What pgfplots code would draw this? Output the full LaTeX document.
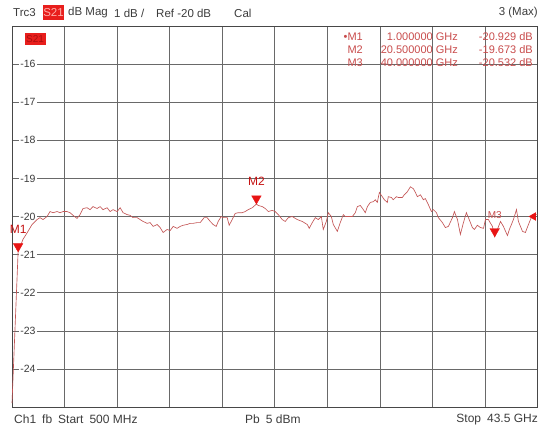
\documentclass[border=0pt]{standalone}
\usepackage{fontspec}
\setmainfont{Liberation Sans}
\usepackage{pgfplots}
\usepackage{pgfplotstable}
\pgfplotsset{compat=1.18}
\definecolor{trace}{RGB}{195,85,85}
\definecolor{mk}{RGB}{232,20,20}
\definecolor{mtxt}{RGB}{200,75,75}
\definecolor{gridc}{RGB}{105,105,105}
\definecolor{txt}{RGB}{60,60,60}
\definecolor{hdr}{RGB}{232,30,28}

\pgfplotstableread{
f dB
0.5 -24.9
1.0 -20.929
1.40 -20.60
1.81 -20.39
2.14 -20.21
2.55 -20.08
2.79 -20.03
3.04 -20.08
3.37 -20.00
3.61 -19.87
3.86 -19.90
4.19 -19.87
4.43 -19.90
4.68 -19.87
5.00 -19.87
5.25 -19.90
5.50 -19.97
5.82 -20.05
6.07 -19.95
6.31 -19.79
6.64 -19.77
6.89 -19.82
7.13 -19.74
7.46 -19.79
7.71 -19.74
7.95 -19.82
8.28 -19.77
8.53 -19.87
8.77 -19.82
9.10 -19.87
9.35 -19.77
9.59 -19.90
9.92 -19.95
10.16 -19.97
10.41 -20.03
10.74 -20.03
10.98 -20.08
11.23 -20.13
11.56 -20.18
11.80 -20.16
12.05 -20.26
12.38 -20.21
12.62 -20.29
12.87 -20.42
13.19 -20.34
13.44 -20.37
13.69 -20.26
14.01 -20.31
14.26 -20.26
14.50 -20.23
14.83 -20.21
15.08 -20.18
15.32 -20.18
15.65 -20.16
15.90 -20.16
16.22 -20.03
16.47 -20.03
16.72 -20.13
16.96 -20.21
17.21 -20.26
17.37 -20.13
17.62 -20.00
17.78 -20.03
18.11 -20.03
18.27 -20.23
18.52 -20.08
18.76 -19.92
19.01 -19.90
19.34 -19.90
19.58 -19.87
19.83 -19.82
20.16 -19.77
20.50 -19.673
20.65 -19.71
20.98 -19.74
21.22 -19.79
21.47 -19.87
21.79 -19.84
22.04 -19.87
22.29 -19.95
22.61 -20.08
22.86 -20.13
23.11 -20.03
23.43 -20.00
23.84 -20.08
24.25 -20.13
24.66 -20.21
24.82 -20.31
25.07 -20.16
25.32 -20.03
25.56 -20.08
25.81 -20.00
25.97 -20.34
26.22 -20.13
26.38 -19.90
26.63 -20.00
26.79 -20.21
27.12 -20.39
27.36 -20.16
27.61 -19.95
27.77 -20.00
28.02 -20.00
28.35 -20.00
28.59 -19.90
28.76 -19.74
29.00 -19.71
29.25 -19.82
29.41 -19.90
29.58 -19.74
29.82 -19.63
30.07 -19.61
30.23 -19.56
30.39 -19.63
30.56 -19.37
30.80 -19.48
30.97 -19.56
31.21 -19.63
31.29 -19.48
31.54 -19.50
31.70 -19.56
31.95 -19.48
32.11 -19.50
32.44 -19.50
32.60 -19.43
32.85 -19.35
33.10 -19.22
33.34 -19.27
33.51 -19.37
33.67 -19.48
33.92 -19.43
34.16 -19.56
34.32 -19.53
34.57 -19.69
34.82 -19.87
34.98 -19.82
35.23 -19.90
35.39 -20.03
35.72 -20.16
35.96 -20.29
36.21 -20.26
36.54 -20.03
36.70 -19.87
36.95 -20.08
37.19 -20.47
37.44 -20.16
37.68 -19.90
37.85 -20.03
38.17 -20.29
38.34 -20.34
38.58 -20.23
38.83 -20.29
39.08 -20.31
39.24 -20.08
39.48 -20.08
39.81 -20.26
40.00 -20.532
40.22 -20.34
40.47 -20.13
40.71 -20.26
41.04 -20.50
41.20 -20.34
41.53 -20.08
41.78 -19.82
41.94 -20.13
42.27 -20.39
42.51 -20.42
42.76 -20.21
43.09 -19.95
43.50 -19.95
}\tracedata

\newcommand{\fs}[1]{\fontsize{#1}{#1}\selectfont}

\begin{document}
\begin{tikzpicture}[x=1pt,y=1pt]
\path[use as bounding box] (-12,-25) rectangle (531,407);
\begin{axis}[
  at={(0,0)}, anchor=south west,
  scale only axis, width=525.5pt, height=381pt,
  xmin=0.5, xmax=43.5, ymin=-25, ymax=-15,
  xtick={4.8,9.1,13.4,17.7,22.0,26.3,30.6,34.9,39.2},
  xticklabels={},
  ytick={-24,-23,-22,-21,-20,-19,-18,-17,-16},
  yticklabels={-24,-23,-22,-21,-20,-19,-18,-17,-16},
  grid=major,
  major grid style={gridc, line width=0.6pt},
  major tick length=0pt,
  axis line style={black!72, line width=0.8pt},
  yticklabel style={anchor=west, xshift=7pt, fill=white, inner sep=1.2pt,
                    font=\fs{10.5}, text=txt},
  clip=false,
]
\addplot[color=trace, line width=0.65pt, mark=none] table[x=f, y=dB] {\tracedata};
\addplot[only marks, mark=triangle*, mark size=5.5pt, color=mk, draw=mk, fill=mk,
  mark options={yshift=5.5pt, rotate=180},
  nodes near coords, point meta=explicit symbolic,
  nodes near coords align={anchor=center},
  every node near coord/.append style={yshift=17pt, text=mk!85!black, font=\fs{12}}]
  coordinates {(1.0,-20.929) [M1] (20.5,-19.673) [M2]};
\addplot[only marks, mark=triangle*, mark size=5.5pt, color=mk, draw=mk, fill=mk,
  mark options={yshift=5.5pt, rotate=180},
  nodes near coords, point meta=explicit symbolic,
  nodes near coords align={anchor=center},
  every node near coord/.append style={yshift=16pt, text=mtxt, font=\fs{10}}]
  coordinates {(40.0,-20.532) [M3]};
\addplot[only marks, mark=triangle*, mark size=4.5pt, color=mk, draw=mk, fill=mk,
  mark options={xshift=-4pt, rotate=90}]
  coordinates {(43.5,-20)};
\end{axis}
% header
\begin{scope}[every node/.style={anchor=west, text=txt, font=\fs{11.5}, inner sep=0pt}]
\node at (1,394) {Trc3};
\node at (56,394) {dB Mag};
\node at (102,394) {1 dB /};
\node at (144,394) {Ref -20 dB};
\node at (222,394) {Cal};
\node[anchor=east] at (526,394) {3 (Max)};
\end{scope}
\node[fill=hdr, text={rgb,255:red,255;green,175;blue,170}, font=\fs{11.5}, inner sep=0pt,
      minimum width=21pt, minimum height=15pt] at (41.5,394) {S21};
% inner trace label
\node[fill=hdr, text={rgb,255:red,170;green,15;blue,15}, font=\fs{10}, inner sep=0pt,
      minimum width=21pt, minimum height=12pt] at (23,368) {S21};
% marker table
\begin{scope}[every node/.style={text=mtxt, font=\fs{11}, inner sep=0pt, anchor=east}]
\node at (351,370) {\textbullet M1};
\node at (446,370) {1.000000 GHz};
\node at (521,370) {-20.929 dB};
\node at (351,357) {M2};
\node at (446,357) {20.500000 GHz};
\node at (521,357) {-19.673 dB};
\node at (351,344) {M3};
\node at (446,344) {40.000000 GHz};
\node at (521,344) {-20.532 dB};
\end{scope}
% footer
\node[anchor=west, text=txt, font=\fs{12}, inner sep=0pt] at (2,-12.5) {Ch1\hspace{6pt}fb\hspace{6pt}Start\hspace{6pt}500 MHz};
\node[anchor=west, text=txt, font=\fs{12}, inner sep=0pt] at (233,-12.5) {Pb\hspace{6pt}5 dBm};
\node[anchor=east, text=txt, font=\fs{12}, inner sep=0pt] at (526,-12.5) {Stop\hspace{6pt}43.5 GHz};
\end{tikzpicture}
\end{document}
